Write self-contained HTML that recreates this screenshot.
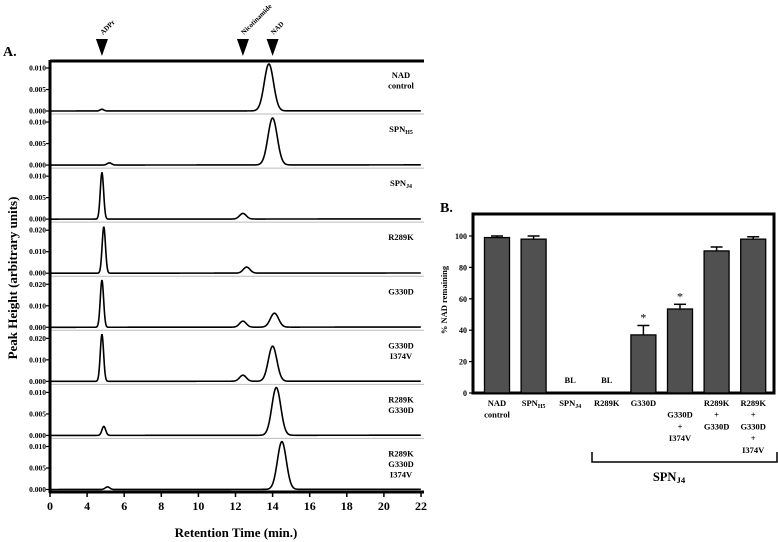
<!DOCTYPE html>
<html><head><meta charset="utf-8"><style>
body{margin:0;background:#fff}
svg{display:block;font-family:"Liberation Serif",serif;font-weight:bold}
</style></head><body>
<svg id="fig" width="778" height="542" viewBox="0 0 778 542" xmlns="http://www.w3.org/2000/svg"></svg>
<script>
// ---- Panel A data ----
const timeTicks = [2,4,6,8,10,12,14,16,18,20,22];
const timeTickLabels = ["0","4","6","8","10","12","14","16","18","20","22"];
const panelNames = ["NAD|control","SPN_H5","SPN_J4","R289K","G330D","G330D|I374V","R289K|G330D","R289K|G330D|I374V"];
const panelMax = [0.010,0.010,0.010,0.020,0.020,0.020,0.010,0.010];
const panelTickLabels = [["0.010","0.005","0.000"],["0.010","0.005","0.000"],["0.010","0.005","0.000"],["0.020","0.010","0.000"],["0.020","0.010","0.000"],["0.020","0.010","0.000"],["0.010","0.005","0.000"],["0.010","0.005","0.000"]];
// peaks: [retention time, height, width(sigma, min)]
const peaksP1 = [[4.8,0.0004,0.1],[13.8,0.0109,0.25]];
const peaksP2 = [[5.2,0.0005,0.12],[14.0,0.0109,0.25]];
const peaksP3 = [[4.8,0.0108,0.09],[12.4,0.0013,0.18]];
const peaksP4 = [[4.9,0.0215,0.09],[12.6,0.0028,0.18]];
const peaksP5 = [[4.8,0.0218,0.09],[12.4,0.0028,0.18],[14.1,0.0065,0.22]];
const peaksP6 = [[4.8,0.0218,0.09],[12.4,0.0028,0.18],[14.0,0.0163,0.23]];
const peaksP7 = [[4.9,0.0021,0.1],[14.2,0.0111,0.24]];
const peaksP8 = [[5.1,0.0006,0.12],[14.5,0.0111,0.24]];
const allPeaks = [peaksP1,peaksP2,peaksP3,peaksP4,peaksP5,peaksP6,peaksP7,peaksP8];
const markerNames = ["ADPr","Nicotinamide","NAD"];
const markerTimes = [4.8,12.4,14.0];
// ---- Panel B data ----
const barCats = ["NAD|control","SPN_H5","SPN_J4","R289K","G330D","G330D|+|I374V","R289K|+|G330D","R289K|+|G330D|+|I374V"];
const barValues = [99,98,null,null,37,53.5,90.5,98];
const barErrors = [1,2,0,0,6,3,2.5,1.5];
const barSig = [false,false,false,false,true,true,false,false];
const bTicks = [0,20,40,60,80,100];

const NS="http://www.w3.org/2000/svg";
const svg=document.getElementById('fig');
function mk(tag,attrs,parent,text){const e=document.createElementNS(NS,tag);for(const k in attrs)e.setAttribute(k,attrs[k]);if(text!==undefined)e.textContent=text;(parent||svg).appendChild(e);return e;}
function labelWithSub(parent,str,x,y,size,anchor){
  const t=mk('text',{x:x,y:y,'font-size':size,'text-anchor':anchor||'middle'},parent);
  const parts=str.split('_');
  t.appendChild(document.createTextNode(parts[0]));
  if(parts[1]){mk('tspan',{dy:2,'font-size':size*0.7},t,parts[1]);}
  return t;
}
// A scales
const xA=t=>50+(t-2)*(371/20);
const baseY=i=>111+i*54.07;
const yA=(i,v)=>baseY(i)-v/panelMax[i]*43;

const gA=mk('g',{});


mk('text',{x:3,y:56,'font-size':14},gA,'A.');
for(let i=0;i<8;i++){
  const g=mk('g',{},gA);
  
  
  mk('line',{x1:50,x2:424,y1:baseY(i)+3,y2:baseY(i)+3,stroke:'#bbb','stroke-width':1},g);
  for(let k=0;k<3;k++){
    const v=panelMax[i]*(1-k/2);const y=yA(i,v);
    mk('line',{x1:46,x2:50,y1:y,y2:y,stroke:'#000','stroke-width':1.2},g);
    const tl=mk('text',{x:46,y:y+2.5,'font-size':7.5,'text-anchor':'end'},g,panelTickLabels[i][k]);
    
    
  }
  let d='';
  for(let t=2.05;t<=22;t+=0.02){
    let v=0.00005*(t-2)/20*panelMax[i]/0.01;
    for(const p of allPeaks[i]){v+=p[1]*Math.exp(-((t-p[0])**2)/(2*p[2]*p[2]));}
    d+=(d?'L':'M')+xA(t).toFixed(2)+','+yA(i,v).toFixed(2);
  }
  const tr=mk('path',{d:d,fill:'none',stroke:'#000','stroke-width':1.6},g);
  
  
  const lines=panelNames[i].split('|');
  lines.forEach((s,j)=>{const t=labelWithSub(g,s,401,baseY(i)-33+j*10.5,8.5,'middle');});
}
// frame
mk('line',{x1:50,x2:424,y1:61,y2:61,stroke:'#000','stroke-width':3},gA);
mk('line',{x1:50,x2:50,y1:60,y2:493,stroke:'#000','stroke-width':3},gA);
mk('line',{x1:49,x2:424,y1:492,y2:492,stroke:'#000','stroke-width':3},gA);
timeTicks.forEach((t,i)=>{
  mk('line',{x1:xA(t),x2:xA(t),y1:492,y2:497,stroke:'#000','stroke-width':1.5},gA);
  const tl=mk('text',{x:xA(t),y:510,'font-size':12,'text-anchor':'middle'},gA,timeTickLabels[i]);
  
  
});
const xt=mk('text',{x:236,y:537,'font-size':13,'text-anchor':'middle'},gA,'Retention Time (min.)');

const yt=mk('text',{x:0,y:0,'font-size':13,'text-anchor':'middle',transform:'translate(17,278) rotate(-90)'},gA,'Peak Height (arbitrary units)');

markerTimes.forEach((t,i)=>{
  const x=xA(t);
  const tri=mk('polygon',{points:`${x-6},39 ${x+6},39 ${x},56`,fill:'#000'},gA);
  
  
  const tl=mk('text',{x:0,y:0,'font-size':7,transform:`translate(${x+1},35) rotate(-45)`},gA,markerNames[i]);
  
  
});

// ---- Panel B ----
const gB=mk('g',{});


mk('text',{x:440,y:212,'font-size':14},gB,'B.');
const yB=v=>393-v*1.57;
const xB=i=>497+i*36.6;
mk('rect',{x:473,y:214,width:301,height:179,fill:'none',stroke:'#000','stroke-width':3},gB);
bTicks.forEach(v=>{
  mk('line',{x1:469,x2:473,y1:yB(v),y2:yB(v),stroke:'#000','stroke-width':1.2},gB);
  const tl=mk('text',{x:467,y:yB(v)+3,'font-size':8,'text-anchor':'end'},gB,String(v));
  
  
});
const by=mk('text',{x:0,y:0,'font-size':8.5,'text-anchor':'middle',transform:'translate(447,300) rotate(-90)'},gB,'% NAD remaining');

barCats.forEach((c,i)=>{
  const x=xB(i);const v=barValues[i];
  if(v===null){
    const bl=mk('text',{x:x,y:383,'font-size':8.5,'text-anchor':'middle'},gB,'BL');
    
  } else {
    const e=barErrors[i];
    mk('line',{x1:x,x2:x,y1:yB(v),y2:yB(v+e),stroke:'#000','stroke-width':1.5},gB);
    mk('line',{x1:x-6,x2:x+6,y1:yB(v+e),y2:yB(v+e),stroke:'#000','stroke-width':1.5},gB);
    const r=mk('rect',{x:x-12.5,y:yB(v),width:25,height:yB(0)-yB(v),fill:'#505050',stroke:'#000','stroke-width':1.3},gB);
    
    
    if(barSig[i]){
      const s=mk('text',{x:x,y:yB(v+e)-4,'font-size':12,'text-anchor':'middle','font-weight':'normal'},gB,'*');
      
    }
  }
  const lines=c.split('|');
  const start=(i===5)?1:0;
  lines.forEach((s,j)=>{const t=labelWithSub(gB,s,x,406+(j+start)*11.7,8.5,'middle');});
});
mk('path',{d:'M592,452 V462 H777 V452',fill:'none',stroke:'#000','stroke-width':1.5},gB);
const gl=labelWithSub(gB,'SPN_J4',669,481,12.5,'middle');

</script>
</body></html>
